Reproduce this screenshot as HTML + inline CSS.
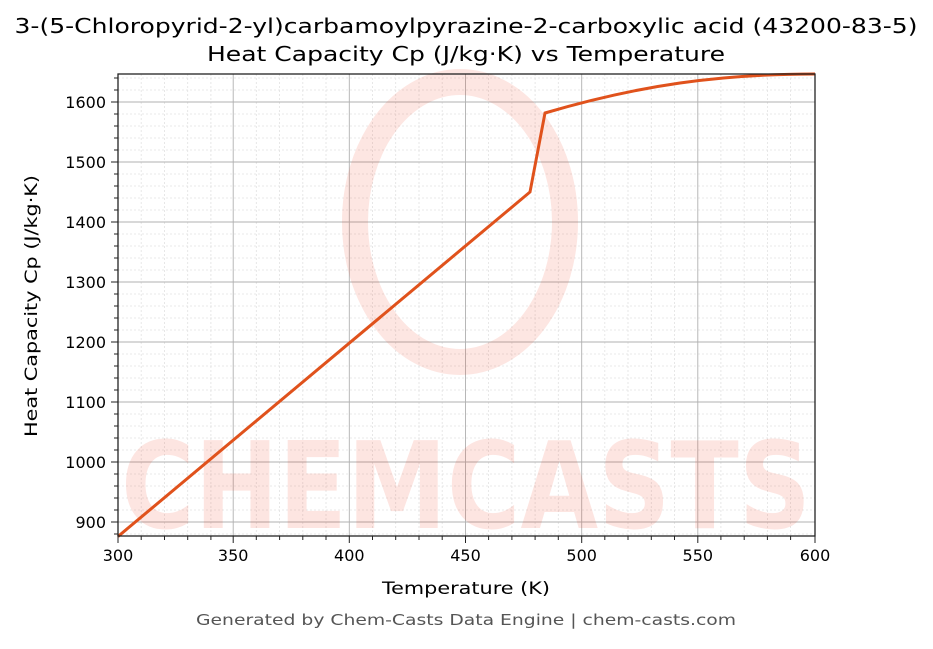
<!DOCTYPE html>
<html><head><meta charset="utf-8"><style>
body{margin:0;background:#fff}
svg text{font-family:"DejaVu Sans","Liberation Sans",sans-serif}
</style></head><body>
<svg width="933" height="644" xmlns="http://www.w3.org/2000/svg">
<rect width="933" height="644" fill="#fff"/>
<text x="466" y="33" font-size="20" text-anchor="middle" fill="#000" textLength="903" lengthAdjust="spacingAndGlyphs">3-(5-Chloropyrid-2-yl)carbamoylpyrazine-2-carboxylic acid (43200-83-5)</text>
<text x="466" y="61" font-size="20" text-anchor="middle" fill="#000" textLength="518" lengthAdjust="spacingAndGlyphs">Heat Capacity Cp (J/kg·K) vs Temperature</text>
<g stroke="#e2e2e2" stroke-width="0.8" stroke-dasharray="2,2">
<path d="M141.2 74V536M164.5 74V536M187.7 74V536M210.9 74V536M256.3 74V536M279.6 74V536M302.8 74V536M326 74V536M372.5 74V536M395.7 74V536M419 74V536M442.2 74V536M488.6 74V536M511.9 74V536M535.1 74V536M558.3 74V536M604.8 74V536M628 74V536M651.3 74V536M674.5 74V536M720.9 74V536M744.2 74V536M767.4 74V536M790.6 74V536"/>
<path d="M118 78H815M118 90H815M118 114H815M118 126H815M118 138H815M118 150H815M118 174H815M118 186H815M118 198H815M118 210H815M118 234H815M118 246H815M118 258H815M118 270H815M118 294H815M118 306H815M118 318H815M118 330H815M118 354H815M118 366H815M118 378H815M118 390H815M118 414H815M118 426H815M118 438H815M118 450H815M118 474H815M118 486H815M118 498H815M118 510H815M118 534H815"/>
</g>
<g stroke="#b0b0b0" stroke-width="0.9">
<path d="M233.2 74V536M349.3 74V536M465.5 74V536M581.7 74V536M697.8 74V536"/>
<path d="M118 102H815M118 162H815M118 222H815M118 282H815M118 342H815M118 402H815M118 462H815M118 522H815"/>
</g>
<g opacity="0.13" fill="#f03c20">
<ellipse cx="460" cy="222" rx="105" ry="140" fill="none" stroke="#f03c20" stroke-width="26"/>
<text x="466" y="528" font-size="120" font-weight="bold" text-anchor="middle" textLength="690" lengthAdjust="spacingAndGlyphs">CHEMCASTS</text>
</g>
<path d="M118 536.5 L530 192 L545 113 C640 85 720 74 815 74" fill="none" stroke="#e0521c" stroke-width="3"/>
<rect x="118" y="74" width="697" height="462" fill="none" stroke="#222" stroke-width="1.3"/>
<g stroke="#222" stroke-width="1">
<path d="M118 536v7M233.2 536v7M349.3 536v7M465.5 536v7M581.7 536v7M697.8 536v7M815 536v7"/>
<path d="M141.2 536v4M164.5 536v4M187.7 536v4M210.9 536v4M256.3 536v4M279.6 536v4M302.8 536v4M326 536v4M372.5 536v4M395.7 536v4M419 536v4M442.2 536v4M488.6 536v4M511.9 536v4M535.1 536v4M558.3 536v4M604.8 536v4M628 536v4M651.3 536v4M674.5 536v4M720.9 536v4M744.2 536v4M767.4 536v4M790.6 536v4"/>
<path d="M111 102h7M111 162h7M111 222h7M111 282h7M111 342h7M111 402h7M111 462h7M111 522h7"/>
<path d="M114 78h4M114 90h4M114 114h4M114 126h4M114 138h4M114 150h4M114 174h4M114 186h4M114 198h4M114 210h4M114 234h4M114 246h4M114 258h4M114 270h4M114 294h4M114 306h4M114 318h4M114 330h4M114 354h4M114 366h4M114 378h4M114 390h4M114 414h4M114 426h4M114 438h4M114 450h4M114 474h4M114 486h4M114 498h4M114 510h4M114 534h4"/>
</g>
<g font-size="16" fill="#000" text-anchor="middle">
<text x="118" y="561">300</text><text x="233.2" y="561">350</text><text x="349.3" y="561">400</text><text x="465.5" y="561">450</text><text x="581.7" y="561">500</text><text x="697.8" y="561">550</text><text x="815" y="561">600</text>
</g>
<g font-size="16" fill="#000" text-anchor="end">
<text x="106" y="108">1600</text><text x="106" y="168">1500</text><text x="106" y="228">1400</text><text x="106" y="288">1300</text><text x="106" y="348">1200</text><text x="106" y="408">1100</text><text x="106" y="468">1000</text><text x="106" y="528">900</text>
</g>
<text x="466" y="594" font-size="17" text-anchor="middle" textLength="168" lengthAdjust="spacingAndGlyphs">Temperature (K)</text>
<text transform="translate(37,306) rotate(-90)" font-size="17" text-anchor="middle" textLength="262" lengthAdjust="spacingAndGlyphs">Heat Capacity Cp (J/kg·K)</text>
<text x="466" y="625" font-size="15" fill="#555" text-anchor="middle" textLength="540" lengthAdjust="spacingAndGlyphs">Generated by Chem-Casts Data Engine | chem-casts.com</text>
</svg>
</body></html>
